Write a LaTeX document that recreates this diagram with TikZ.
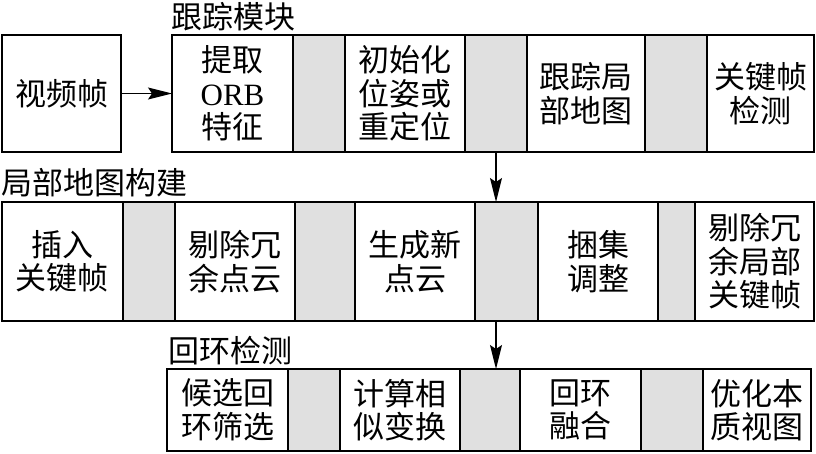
\documentclass[tikz,border=0pt]{standalone}
\usepackage{fontspec}
\setmainfont{Liberation Serif}
\newfontfamily\cjk{Noto Sans CJK SC}
\usetikzlibrary{arrows.meta}
\begin{document}
\begin{tikzpicture}[x=1pt,y=-1pt,
  cell/.style={draw, line width=1.4pt, anchor=north west, inner sep=0pt, outer sep=0pt,
    align=center, font=\fontsize{31}{33.5}\selectfont\cjk},
  gcell/.style={cell, fill=black!12},
  lab/.style={anchor=west, inner sep=0pt, font=\fontsize{31}{33.5}\selectfont\cjk},
  arr/.style={line width=1.4pt, -{Stealth[length=24pt,width=12pt,inset=4pt]}}]
\useasboundingbox (0,0) rectangle (816,453);
% labels
\node[lab] (l1) at (171,17) {跟踪模块};
\node[lab] (l2) at (1,183) {局部地图构建};
\node[lab] (l3) at (168,351) {回环检测};
% row 1
\node[cell, minimum width=119pt, minimum height=117pt] (v) at (2,35) {视频帧};
\node[cell, minimum width=121pt, minimum height=117pt] (t1) at (172,35) {提取\\{\rmfamily ORB}\\特征};
\node[gcell, minimum width=52pt, minimum height=117pt] (t2) at (293,35) {};
\node[cell, minimum width=120pt, minimum height=117pt] (t3) at (345,35) {初始化\\位姿或\\重定位};
\node[gcell, minimum width=62pt, minimum height=117pt] (t4) at (465,35) {};
\node[cell, minimum width=118pt, minimum height=117pt] (t5) at (527,35) {跟踪局\\部地图};
\node[gcell, minimum width=62pt, minimum height=117pt] (t6) at (645,35) {};
\node[cell, minimum width=107pt, minimum height=117pt] (t7) at (707,35) {关键帧\\检测};
% row 2
\node[cell, minimum width=121pt, minimum height=119pt] (m1) at (2,202) {插入\\关键帧};
\node[gcell, minimum width=52pt, minimum height=119pt] (m2) at (123,202) {};
\node[cell, minimum width=120pt, minimum height=119pt] (m3) at (175,202) {剔除冗\\余点云};
\node[gcell, minimum width=60pt, minimum height=119pt] (m4) at (295,202) {};
\node[cell, minimum width=120pt, minimum height=119pt] (m5) at (355,202) {生成新\\点云};
\node[gcell, minimum width=63pt, minimum height=119pt] (m6) at (475,202) {};
\node[cell, minimum width=120pt, minimum height=119pt] (m7) at (538,202) {捆集\\调整};
\node[gcell, minimum width=37pt, minimum height=119pt] (m8) at (658,202) {};
\node[cell, minimum width=119pt, minimum height=119pt] (m9) at (695,202) {剔除冗\\余局部\\关键帧};
% row 3
\node[cell, minimum width=121pt, minimum height=82pt] (b1) at (167,369) {候选回\\环筛选};
\node[gcell, minimum width=52pt, minimum height=82pt] (b2) at (288,369) {};
\node[cell, minimum width=120pt, minimum height=82pt] (b3) at (340,369) {计算相\\似变换};
\node[gcell, minimum width=60pt, minimum height=82pt] (b4) at (460,369) {};
\node[cell, minimum width=121pt, minimum height=82pt] (b5) at (520,369) {回环\\融合};
\node[gcell, minimum width=62pt, minimum height=82pt] (b6) at (641,369) {};
\node[cell, minimum width=108pt, minimum height=82pt] (b7) at (703,369) {优化本\\质视图};
% arrows
\draw[arr] (v.east) -- (t1.west);
\draw[arr] (t4.south) -- (t4.south |- m6.north);
\draw[arr] (t4.south |- m6.south) -- (t4.south |- b4.north);
\end{tikzpicture}
\end{document}
